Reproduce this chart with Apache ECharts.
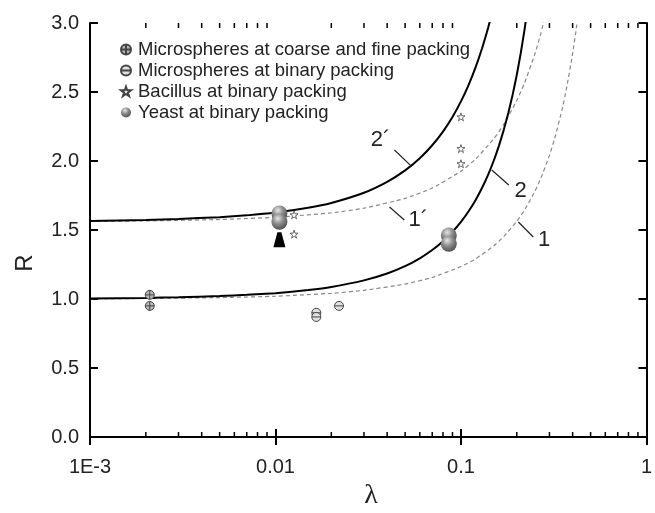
<!DOCTYPE html>
<html>
<head>
<meta charset="utf-8">
<script src="https://cdn.jsdelivr.net/npm/echarts@6/dist/echarts.min.js"></script>
<style>
  html, body { margin: 0; padding: 0; background: #fff; }
  #chart { width: 655px; height: 513px; }
</style>
</head>
<body>
<div id="chart"></div>
<script>
// theory curves (lambda, R)
var lam2 = [0.001, 0.002, 0.003, 0.005, 0.007, 0.01, 0.015, 0.02, 0.03, 0.04, 0.05, 0.06, 0.07, 0.08, 0.09, 0.1,
  0.11, 0.12, 0.13, 0.14, 0.15, 0.16, 0.17, 0.18, 0.19, 0.2, 0.21, 0.22, 0.23];
var r2 = [1.004, 1.008, 1.013, 1.021, 1.030, 1.042, 1.065, 1.087, 1.135, 1.185, 1.238, 1.295, 1.355, 1.419, 1.487, 1.559,
  1.636, 1.718, 1.806, 1.900, 2.000, 2.108, 2.224, 2.348, 2.481, 2.625, 2.781, 2.948, 3.130];
var lam2p = [0.001, 0.002, 0.003, 0.005, 0.007, 0.01, 0.015, 0.02, 0.03, 0.04, 0.05, 0.06, 0.07, 0.08, 0.09, 0.1,
  0.11, 0.12, 0.13, 0.14, 0.15];
var r2p = [1.566, 1.573, 1.580, 1.593, 1.606, 1.626, 1.661, 1.696, 1.770, 1.849, 1.932, 2.020, 2.114, 2.213, 2.319, 2.432,
  2.552, 2.680, 2.817, 2.963, 3.120];
var lam1 = [0.001, 0.002, 0.005, 0.01, 0.02, 0.03, 0.05, 0.07, 0.1, 0.12, 0.15, 0.17, 0.2, 0.22, 0.25, 0.27,
  0.3, 0.32, 0.35, 0.37, 0.4, 0.42, 0.45];
var r1 = [1.002, 1.004, 1.010, 1.020, 1.041, 1.063, 1.108, 1.156, 1.235, 1.291, 1.384, 1.452, 1.563, 1.644, 1.778, 1.877,
  2.041, 2.163, 2.367, 2.520, 2.778, 2.973, 3.306];
var lam1p = [0.001, 0.002, 0.005, 0.01, 0.02, 0.03, 0.05, 0.07, 0.1, 0.12, 0.15, 0.17, 0.2, 0.22, 0.25, 0.27, 0.3];
var r1p = [1.563, 1.566, 1.576, 1.592, 1.624, 1.658, 1.729, 1.804, 1.926, 2.014, 2.159, 2.265, 2.438, 2.564, 2.773, 2.927, 3.184];

// measured points
var coarseFine = [[0.0021, 1.03], [0.0021, 0.95]];
var binaryMicro = [[0.0166, 0.90], [0.0166, 0.87], [0.022, 0.95]];
var bacillus = [[0.1, 2.32], [0.1, 2.09], [0.1, 1.98], [0.0126, 1.61], [0.0126, 1.47]];
var yeast = [[0.0105, 1.62], [0.0105, 1.56], [0.086, 1.46], [0.086, 1.40]];
var yeastPointer = [[0.0105, 1.43]];

// curve labels: leader line start, leader line end, text position
var calloutText = ['2\u00b4', '1\u00b4', '2', '1'];
var calloutFrom = [[0.0533, 1.97], [0.0412, 1.667], [0.1466, 1.935], [0.204, 1.558]];
var calloutTo = [[0.0438, 2.08], [0.0495, 1.572], [0.181, 1.826], [0.2455, 1.449]];
var calloutAt = [[0.0369, 2.15], [0.0589, 1.57], [0.2094, 1.78], [0.281, 1.43]];

var xTickLabels = ['1E-3', '0.01', '0.1', '1'];
var minorTicks = [0.002, 0.003, 0.004, 0.005, 0.006, 0.007, 0.008, 0.009,
  0.02, 0.03, 0.04, 0.05, 0.06, 0.07, 0.08, 0.09,
  0.2, 0.3, 0.4, 0.5, 0.6, 0.7, 0.8, 0.9];

function zip(xs, ys) {
  return xs.map(function (x, i) { return [x, ys[i]]; });
}

var FONT = 'Liberation Sans, Arial, sans-serif';
var crossCircle = 'path://M0,5A5,5,0,1,1,10,5A5,5,0,1,1,0,5ZM5,0L5,10M0,5L10,5';
var barCircle = 'path://M0,5A5,5,0,1,1,10,5A5,5,0,1,1,0,5ZM0,5L10,5';
var star = 'path://M5,0L6.2,3.6L10,3.6L6.9,5.9L8.1,9.5L5,7.3L1.9,9.5L3.1,5.9L0,3.6L3.8,3.6Z';
var sphere = {
  type: 'radial', x: 0.4, y: 0.3, r: 0.75,
  colorStops: [{ offset: 0, color: '#e6e6e6' }, { offset: 0.45, color: '#8c8c8c' }, { offset: 1, color: '#4a4a4a' }]
};

var chart = echarts.init(document.getElementById('chart'));

function curve(name, data, dashed) {
  return {
    name: name,
    type: 'line',
    data: data,
    smooth: 0.15,
    symbol: 'none',
    silent: true,
    z: 2,
    lineStyle: dashed
      ? { color: '#888', width: 1.2, type: [4, 3] }
      : { color: '#000', width: 2 }
  };
}

chart.setOption({
  animation: false,
  grid: { left: 90, right: 4, top: 23, bottom: 76 },
  legend: {
    orient: 'vertical',
    left: 115,
    top: 34,
    itemWidth: 10,
    itemHeight: 10,
    itemGap: 0,
    data: ['Microspheres at coarse and fine packing', 'Microspheres at binary packing',
      'Bacillus at binary packing', 'Yeast at binary packing'],
    textStyle: { fontFamily: FONT, fontSize: 18.5, color: '#222', lineHeight: 21, padding: [0, 0, 0, 2] }
  },
  xAxis: [{
    type: 'log',
    logBase: 10,
    min: 0.001,
    max: 1,
    splitNumber: 3,
    axisLine: { lineStyle: { color: '#000', width: 2 } },
    axisTick: { inside: true, length: 8, lineStyle: { color: '#000', width: 2 } },
    splitLine: { show: false },
    axisLabel: {
      fontFamily: FONT, fontSize: 20, color: '#222', margin: 20,
      formatter: function (v) { return xTickLabels[Math.round(Math.log10(v)) + 3]; }
    }
  }, {
    type: 'log',
    logBase: 10,
    min: 0.001,
    max: 1,
    splitNumber: 3,
    position: 'top',
    axisLine: { lineStyle: { color: '#000', width: 2 } },
    axisTick: { inside: true, length: 8, lineStyle: { color: '#000', width: 2 } },
    splitLine: { show: false },
    axisLabel: { show: false }
  }],
  yAxis: [{
    type: 'value',
    min: 0,
    max: 3,
    interval: 0.5,
    axisLine: { show: true, lineStyle: { color: '#000', width: 2 } },
    axisTick: { show: true, inside: true, length: 8, lineStyle: { color: '#000', width: 2 } },
    splitLine: { show: false },
    axisLabel: {
      fontFamily: FONT, fontSize: 20, color: '#222', margin: 11,
      formatter: function (v) { return v.toFixed(1); }
    }
  }, {
    type: 'value',
    min: 0,
    max: 3,
    interval: 0.5,
    position: 'right',
    axisLine: { show: true, lineStyle: { color: '#000', width: 2 } },
    axisTick: { show: true, inside: true, length: 8, lineStyle: { color: '#000', width: 2 } },
    splitLine: { show: false },
    axisLabel: { show: false }
  }],
  graphic: [
    { type: 'text', x: 25, y: 263, rotation: Math.PI / 2,
      style: { text: 'R', font: '24px ' + FONT, fill: '#222', align: 'center', verticalAlign: 'middle' } },
    { type: 'text', x: 371, y: 496,
      style: { text: '\u03bb', font: '28px Liberation Serif, serif', fill: '#222', align: 'center', verticalAlign: 'middle' } }
  ],
  series: [
    curve('1', zip(lam1, r1), true),
    curve('1p', zip(lam1p, r1p), true),
    curve('2', zip(lam2, r2), false),
    curve('2p', zip(lam2p, r2p), false),
    {
      name: 'minor', type: 'custom', silent: true, clip: false, z: 5,
      data: minorTicks.map(function (v) { return [v, 0]; }),
      encode: { x: 0, y: 1 },
      renderItem: function (params, api) {
        var v = api.value(0);
        var b = api.coord([v, 0]);
        var t = api.coord([v, 3]);
        var st = { stroke: '#000', lineWidth: 1.5 };
        return {
          type: 'group',
          children: [
            { type: 'line', shape: { x1: b[0], y1: b[1], x2: b[0], y2: b[1] - 5 }, style: st },
            { type: 'line', shape: { x1: t[0], y1: t[1], x2: t[0], y2: t[1] + 5 }, style: st }
          ]
        };
      }
    },
    {
      name: 'callouts', type: 'custom', silent: true, clip: false, z: 5,
      data: calloutFrom,
      encode: { x: 0, y: 1 },
      renderItem: function (params, api) {
        var i = params.dataIndex;
        var a = api.coord(calloutFrom[i]);
        var b = api.coord(calloutTo[i]);
        var c = api.coord(calloutAt[i]);
        return {
          type: 'group',
          children: [
            { type: 'line', shape: { x1: a[0], y1: a[1], x2: b[0], y2: b[1] },
              style: { stroke: '#222', lineWidth: 1.2 } },
            { type: 'text', x: c[0], y: c[1],
              style: { text: calloutText[i], font: '22px ' + FONT, fill: '#222', align: 'center', verticalAlign: 'middle' } }
          ]
        };
      }
    },
    {
      name: 'Microspheres at coarse and fine packing', type: 'scatter', data: coarseFine,
      symbol: crossCircle, symbolSize: 9, z: 4,
      itemStyle: { color: '#b8b8b8', borderColor: '#444', borderWidth: 1, opacity: 1 }
    },
    {
      name: 'Microspheres at binary packing', type: 'scatter', data: binaryMicro,
      symbol: barCircle, symbolSize: 9, z: 4,
      itemStyle: { color: '#e0e0e0', borderColor: '#444', borderWidth: 1, opacity: 1 }
    },
    {
      name: 'Bacillus at binary packing', type: 'scatter', data: bacillus,
      symbol: star, symbolSize: 8, z: 4,
      itemStyle: { color: '#fff', borderColor: '#444', borderWidth: 0.8, opacity: 1 }
    },
    {
      name: 'Yeast at binary packing', type: 'scatter', data: yeast,
      symbol: 'circle', symbolSize: 16, z: 4,
      itemStyle: { color: sphere, opacity: 1 }
    },
    {
      name: 'pointer', type: 'scatter', data: yeastPointer,
      symbol: 'path://M4,0L8,0L12,15L0,15Z', symbolSize: [12, 15], z: 3,
      itemStyle: { color: '#000', opacity: 1 }
    }
  ]
});
</script>
</body>
</html>
